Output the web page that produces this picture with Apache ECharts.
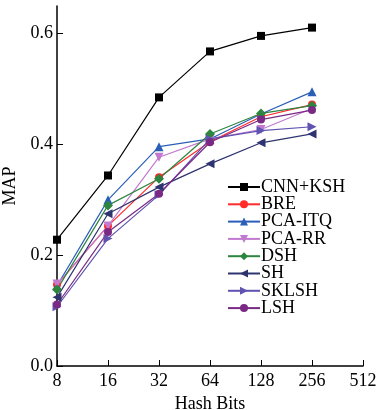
<!DOCTYPE html>
<html><head><meta charset="utf-8">
<script src="https://cdn.jsdelivr.net/npm/echarts@6/dist/echarts.min.js"></script>
<style>html,body{margin:0;padding:0;background:#fff}#c{width:379px;height:410px}</style>
</head><body><div id="c"></div>
<script>
const categories = ['8','16','32','64','128','256','512'];
const yTicks = [0, 0.2, 0.4, 0.6];
const cnnKsh = [0.228, 0.344, 0.485, 0.568, 0.596, 0.611];
const bre    = [0.147, 0.253, 0.341, 0.405, 0.450, 0.472];
const pcaItq = [0.145, 0.300, 0.396, 0.410, 0.455, 0.495];
const pcaRr  = [0.148, 0.253, 0.377, 0.410, 0.427, 0.465];
const dsh    = [0.138, 0.290, 0.338, 0.419, 0.456, 0.470];
const sh     = [0.124, 0.275, 0.323, 0.365, 0.403, 0.419];
const sklsh  = [0.107, 0.230, 0.309, 0.410, 0.425, 0.432];
const lsh    = [0.111, 0.242, 0.311, 0.404, 0.445, 0.462];

const font = 'Liberation Serif';
function mk(name, data, color, symbol, size, rot) {
  return {
    name, type: 'line', data, symbol, symbolSize: size, symbolRotate: rot || 0,
    itemStyle: {color}, lineStyle: {color, width: 1.2}, animation: false
  };
}
const chart = echarts.init(document.getElementById('c'), null, {renderer: 'canvas'});
chart.setOption({
  animation: false,
  textStyle: {fontFamily: font},
  grid: {left: 57, right: 16, top: 6, bottom: 44, outerBoundsMode: 'none', containLabel: false},
  legend: {
    orient: 'vertical', left: 222, top: 173,
    itemWidth: 32, itemHeight: 10, itemGap: -0.7,
    textStyle: {fontFamily: font, fontSize: 18, color: '#000', padding: [0,0,0,-4]},
    data: ['CNN+KSH','BRE','PCA-ITQ','PCA-RR','DSH','SH','SKLSH','LSH']
  },
  xAxis: {
    type: 'category', data: categories, boundaryGap: false,
    name: 'Hash Bits', nameLocation: 'middle', nameGap: 27,
    nameTextStyle: {fontFamily: font, fontSize: 18, color: '#000'},
    axisLine: {lineStyle: {color: '#000', width: 1.5}},
    axisTick: {inside: true, length: 6, lineStyle: {color: '#000'}},
    axisLabel: {fontFamily: font, fontSize: 18, color: '#000', margin: 6},
    splitLine: {show: false}
  },
  yAxis: {
    type: 'value', min: 0, max: 0.65,
    name: 'MAP', nameLocation: 'middle', nameGap: 32,
    nameTextStyle: {fontFamily: font, fontSize: 18, color: '#000'},
    axisLine: {show: true, lineStyle: {color: '#000', width: 1.5}},
    axisTick: {show: true, inside: true, length: 6, lineStyle: {color: '#000'}, customValues: yTicks},
    axisLabel: {fontFamily: font, fontSize: 18, color: '#000', margin: 4, customValues: yTicks,
      formatter: v => v.toFixed(1)},
    splitLine: {show: false}
  },
  series: [
    mk('CNN+KSH', cnnKsh, '#000000', 'rect', 8),
    mk('BRE', bre, '#ff2a2a', 'circle', 8),
    mk('PCA-ITQ', pcaItq, '#2a5fb8', 'triangle', 9),
    mk('PCA-RR', pcaRr, '#c27ad0', 'triangle', 9, 180),
    mk('DSH', dsh, '#2e8540', 'diamond', 10),
    mk('SH', sh, '#2e3470', 'triangle', 9, 90),
    mk('SKLSH', sklsh, '#5f52b0', 'triangle', 9, -90),
    mk('LSH', lsh, '#7a2a85', 'circle', 8)
  ]
});
</script></body></html>
